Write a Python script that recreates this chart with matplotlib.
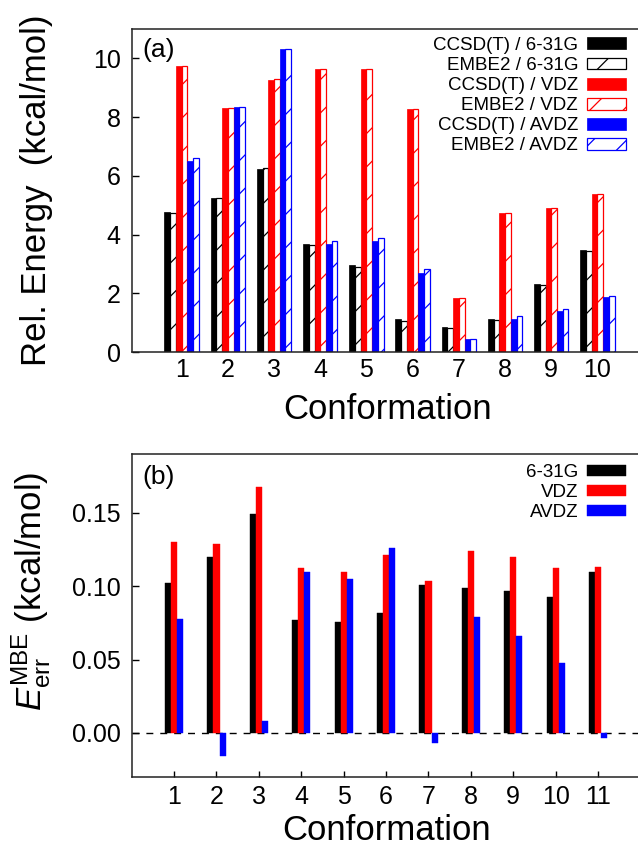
import numpy as np
import matplotlib
matplotlib.use("Agg")
import matplotlib.pyplot as plt

plt.rcParams['font.family'] = ['Liberation Sans', 'DejaVu Sans']
plt.rcParams['mathtext.fontset'] = 'custom'
plt.rcParams['mathtext.rm'] = 'Liberation Sans'
plt.rcParams['mathtext.it'] = 'Liberation Sans:italic'
plt.rcParams['hatch.linewidth'] = 0.9

# ---------------- data: panel (a) ----------------
conf_a = [1, 2, 3, 4, 5, 6, 7, 8, 9, 10]
ccsd_631g = [4.77, 5.24, 6.22, 3.67, 2.96, 1.12, 0.86, 1.12, 2.31, 3.47]
embe2_631g = [4.75, 5.24, 6.27, 3.63, 2.90, 1.07, 0.81, 1.09, 2.29, 3.44]
ccsd_vdz = [9.73, 8.31, 9.25, 9.63, 9.63, 8.28, 1.85, 4.72, 4.89, 5.39]
embe2_vdz = [9.73, 8.32, 9.30, 9.63, 9.63, 8.28, 1.85, 4.72, 4.89, 5.39]
ccsd_avdz = [6.51, 8.36, 10.33, 3.67, 3.78, 2.70, 0.43, 1.13, 1.39, 1.88]
embe2_avdz = [6.59, 8.35, 10.33, 3.78, 3.87, 2.81, 0.43, 1.22, 1.45, 1.92]
labels_a = ["CCSD(T) / 6-31G", "EMBE2 / 6-31G", "CCSD(T) / VDZ",
            "EMBE2 / VDZ", "CCSD(T) / AVDZ", "EMBE2 / AVDZ"]

# ---------------- data: panel (b) ----------------
conf_b = [1, 2, 3, 4, 5, 6, 7, 8, 9, 10, 11]
err_631g = [0.102, 0.120, 0.149, 0.077, 0.0757, 0.082, 0.1007, 0.0985, 0.0967, 0.0928, 0.1095]
err_vdz = [0.1304, 0.129, 0.1676, 0.1122, 0.1097, 0.121, 0.1034, 0.1242, 0.1197, 0.1124, 0.1131]
err_avdz = [0.0775, -0.0155, 0.0083, 0.1093, 0.105, 0.1257, -0.007, 0.0789, 0.0658, 0.0478, -0.0032]
labels_b = ["6-31G", "VDZ", "AVDZ"]

colors = ['#000000', '#ff0000', '#0000ff']

W, H = 638, 847
fig = plt.figure(figsize=(W / 100, H / 100), dpi=100)

# ---------- panel (a) ----------
axa = fig.add_axes([131.7 / W, 495 / H, 512 / W, 323 / H])
xa = np.array(conf_a, dtype=float)
wa = 0.124
series_a = [ccsd_631g, embe2_631g, ccsd_vdz, embe2_vdz, ccsd_avdz, embe2_avdz]
for k, vals in enumerate(series_a):
    c = colors[k // 2]
    off = (k - 2.5) * wa
    if k % 2 == 0:
        axa.bar(xa + off, vals, wa, color=c, edgecolor=c, linewidth=0.5, label=labels_a[k])
    else:
        axa.bar(xa + off, vals, wa, facecolor='white', edgecolor=c, linewidth=0.9,
                hatch='/', label=labels_a[k])
axa.set_xlim(-0.08, 11.0)
axa.set_ylim(0, 11)
axa.set_xticks(conf_a)
axa.set_yticks([0, 2, 4, 6, 8, 10])
axa.tick_params(axis='x', length=0, labelsize=18, pad=4)
axa.tick_params(axis='y', direction='in', length=5, width=1, labelsize=18, pad=8)
axa.set_xlabel("Conformation", fontsize=25, labelpad=8.5)
axa.set_ylabel("Rel. Energy  (kcal/mol)", fontsize=25)
axa.yaxis.set_label_coords((53 - 131.7) / 512, 0.5)
axa.text(11 / 512, 1 - 9 / 323, "(a)", transform=axa.transAxes, fontsize=19,
         ha='left', va='top')
axa.legend(loc='upper right', bbox_to_anchor=((626 - 131.7) / 512, 1 - 8 / 323),
           frameon=False, markerfirst=False, fontsize=13.5, borderpad=0,
           borderaxespad=0, handlelength=2.1, handleheight=0.6,
           handletextpad=0.45, labelspacing=0.165)
for sp in axa.spines.values():
    sp.set_linewidth(1.1)
    sp.set_color('#222222')

# ---------- panel (b) ----------
axb = fig.add_axes([131.7 / W, 70 / H, 508.8 / W, 323 / H])
xb = np.array(conf_b, dtype=float)
wb = 0.144
for k, vals in enumerate([err_631g, err_vdz, err_avdz]):
    axb.bar(xb + (k - 1) * wb, vals, wb, color=colors[k], edgecolor=colors[k],
            linewidth=0.3, label=labels_b[k])
axb.axhline(0, color='black', linestyle=(0, (5, 5)), linewidth=1.0, zorder=0.5)
axb.set_xlim(0, 12)
axb.set_ylim(-0.03, 0.19)
axb.set_xticks(conf_b)
axb.set_yticks([0.0, 0.05, 0.10, 0.15])
axb.set_yticklabels(["0.00", "0.05", "0.10", "0.15"])
axb.tick_params(axis='x', direction='in', length=4.5, width=1, labelsize=18, pad=6)
axb.tick_params(axis='y', direction='in', length=5, width=1, labelsize=18, pad=8)
axb.set_xlabel("Conformation", fontsize=25, labelpad=3)
axb.set_ylabel(r"$E_{\rm err}^{\rm MBE}$ (kcal/mol)", fontsize=25)
axb.yaxis.set_label_coords((53 - 131.7) / 508.8, 0.576)
axb.text(11 / 508.8, 1 - 11 / 323, "(b)", transform=axb.transAxes, fontsize=19,
         ha='left', va='top')
axb.legend(loc='upper right', bbox_to_anchor=((626 - 131.7) / 508.8, 1 - 10 / 323),
           frameon=False, markerfirst=False, fontsize=13.5, borderpad=0,
           borderaxespad=0, handlelength=2.1, handleheight=0.55,
           handletextpad=0.45, labelspacing=0.165)
for sp in axb.spines.values():
    sp.set_linewidth(1.1)
    sp.set_color('#222222')

fig.savefig("out.png", dpi=100)
